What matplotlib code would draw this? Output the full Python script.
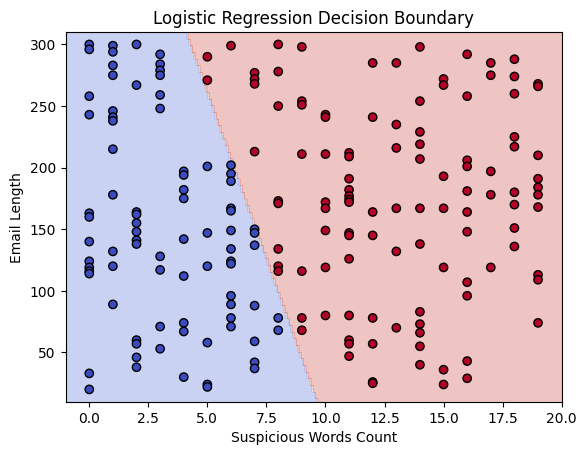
import numpy as np
import matplotlib
matplotlib.use('Agg')
import matplotlib.pyplot as plt

# points, grouped by word count
ham_words = ([0] * 13 + [1] * 12 + [2] * 12 + [3] * 10 + [4] * 9 +
             [5] * 6 + [6] * 13 + [7] * 7 + [8] * 2)
ham_length = [300, 296, 258, 243, 163, 160, 140, 124, 119, 116, 114, 33, 20,
              299, 294, 283, 275, 246, 241, 238, 215, 178, 132, 120, 89,
              300, 267, 164, 162, 155, 148, 141, 138, 60, 57, 46, 38,
              292, 284, 279, 275, 259, 248, 128, 117, 71, 53,
              197, 194, 182, 175, 142, 112, 74, 67, 30,
              201, 147, 120, 58, 24, 22,
              202, 195, 189, 167, 165, 149, 134, 124, 122, 96, 89, 78, 71,
              150, 147, 137, 88, 59, 42, 37,
              78, 68]

spam_words = ([5] * 2 + [6] * 1 + [7] * 4 + [8] * 8 + [9] * 7 + [10] * 8 +
              [11] * 14 + [12] * 8 + [13] * 6 + [14] * 12 + [15] * 7 +
              [16] * 11 + [17] * 5 + [18] * 9 + [19] * 10)
spam_length = [290, 271,
               299,
               277, 272, 268, 213,
               300, 278, 250, 173, 171, 134, 120, 116,
               298, 254, 251, 211, 116, 78, 68,
               243, 241, 211, 172, 167, 149, 119, 80,
               212, 209, 191, 182, 177, 174, 172, 147, 145, 126, 80, 60, 57, 47,
               285, 241, 164, 145, 78, 57, 26, 25,
               285, 235, 216, 167, 132, 70,
               298, 254, 229, 219, 207, 167, 138, 83, 73, 66, 55, 40,
               272, 267, 193, 167, 119, 36, 24,
               292, 258, 206, 201, 181, 164, 148, 107, 96, 43, 29,
               285, 275, 197, 178, 119,
               288, 274, 260, 225, 217, 180, 170, 151, 136,
               268, 266, 210, 191, 184, 178, 168, 113, 109, 74]

# fitted model (estimated from the boundary in the picture)
coef = [1.0, 0.0185]
intercept = -9.83

X = np.column_stack((ham_words + spam_words, ham_length + spam_length)).astype(float)
y = np.array([0] * len(ham_words) + [1] * len(spam_words))

x_min, x_max = X[:, 0].min() - 1, X[:, 0].max() + 1
y_min, y_max = X[:, 1].min() - 10, X[:, 1].max() + 10
xx, yy = np.meshgrid(np.linspace(x_min, x_max, 211),
                     np.linspace(y_min, y_max, 3001))
Z = (coef[0] * xx + coef[1] * yy + intercept > 0).astype(int)

fig, ax = plt.subplots(figsize=(6.4, 4.8))
ax.contourf(xx, yy, Z, alpha=0.3, cmap='coolwarm')
ax.scatter(X[:, 0], X[:, 1], c=y, cmap='coolwarm', edgecolors='k')
ax.set_xlabel('Suspicious Words Count')
ax.set_ylabel('Email Length')
ax.set_title('Logistic Regression Decision Boundary')

fig.savefig('out.png', dpi=100, bbox_inches='tight')
